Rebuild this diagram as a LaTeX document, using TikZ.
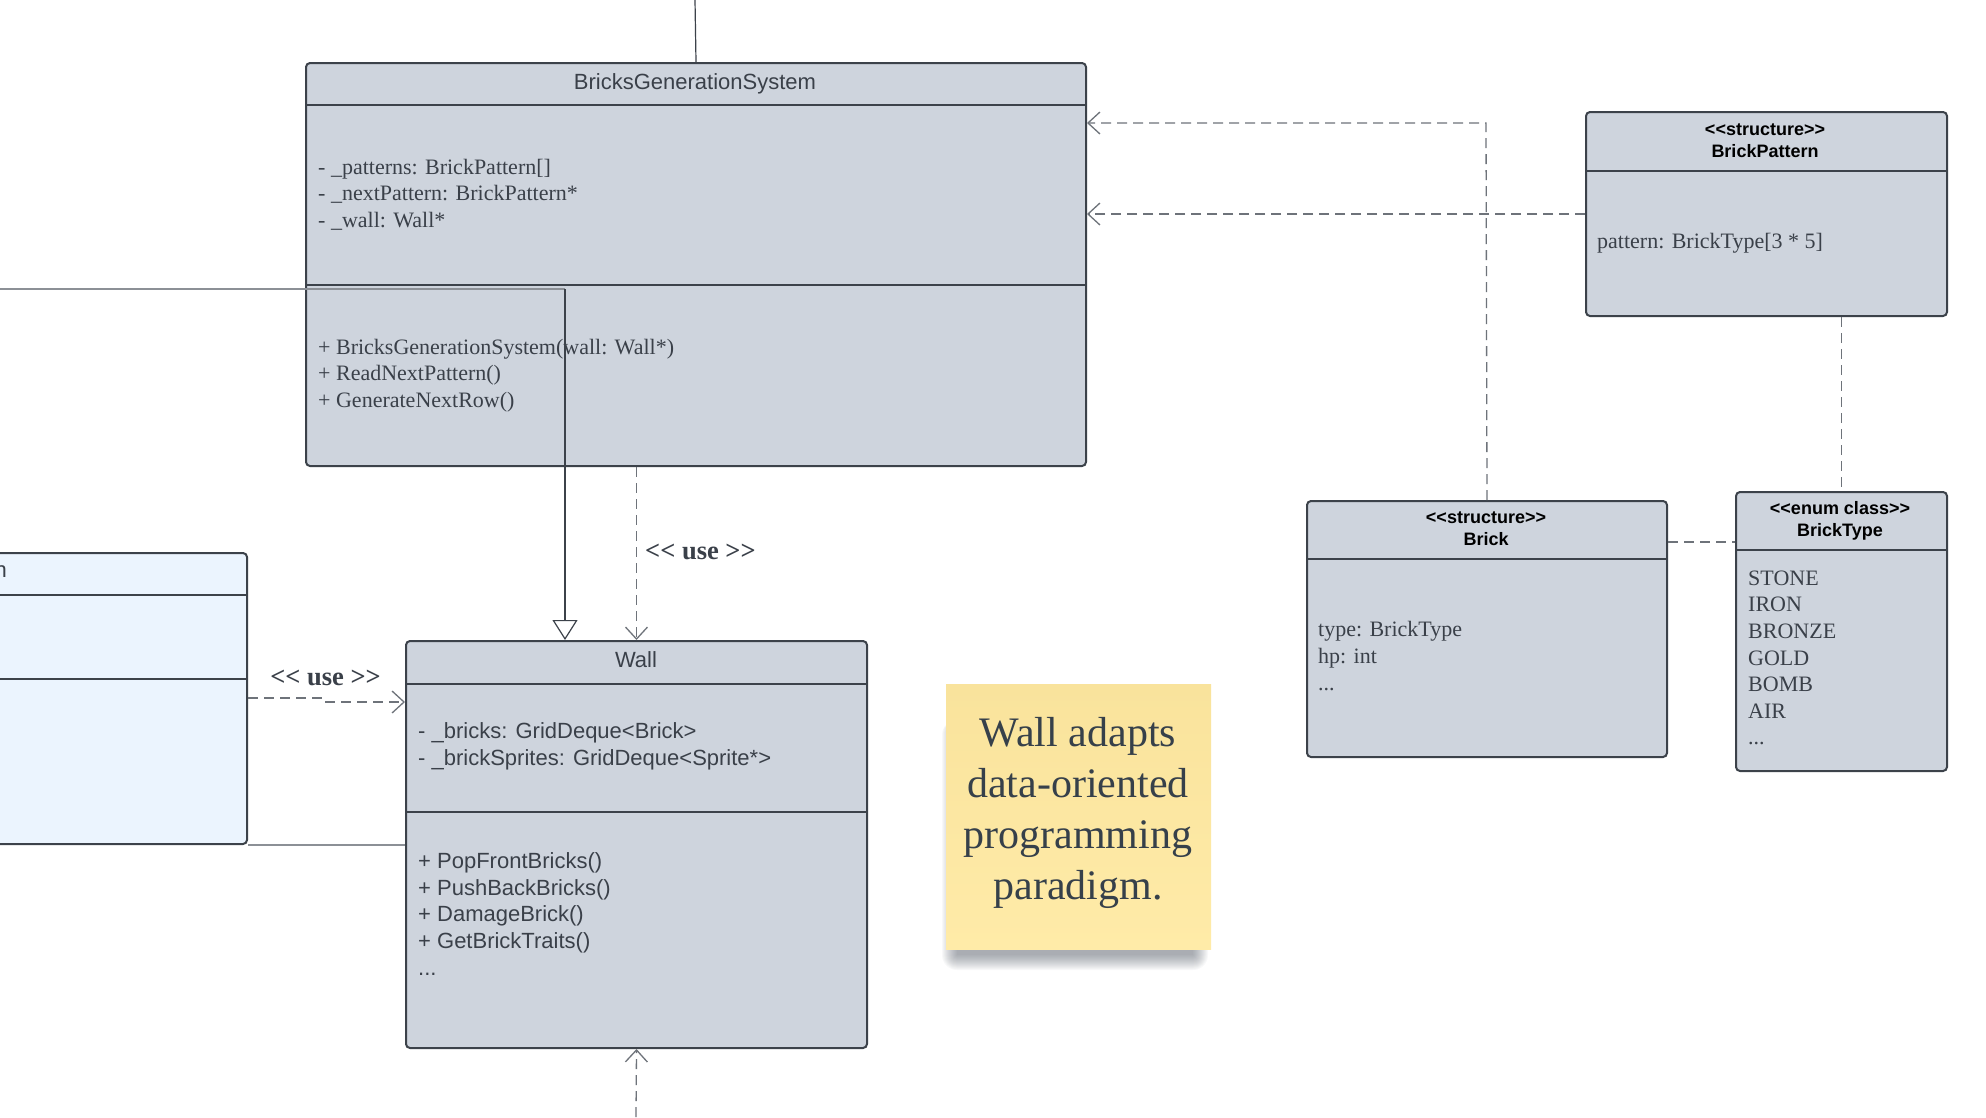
\documentclass[tikz,border=0pt]{standalone}
\usepackage{fontspec}
\setmainfont{Liberation Serif}[Ligatures=TeXOff]
\setsansfont{Liberation Sans}[Ligatures=TeXOff]
\usetikzlibrary{arrows.meta}
\definecolor{boxfill}{HTML}{CED4DD}
\definecolor{boxline}{HTML}{3C424A}
\definecolor{txt}{HTML}{3A4049}
\definecolor{bluefill}{HTML}{EBF4FE}
\definecolor{dashcol}{HTML}{6E737A}
\definecolor{graycon}{HTML}{8C9096}
\definecolor{notetop}{HTML}{F9E39C}
\definecolor{notebot}{HTML}{FFEBA8}
\definecolor{notetxt}{HTML}{36404A}
\definecolor{shadowcol}{HTML}{4A5260}
\begin{document}
\begin{tikzpicture}[x=1pt,y=-1pt,
  umlbox/.style={draw=boxline, line width=2pt, fill=boxfill, rounded corners=4pt, anchor=north west, inner sep=0pt},
  bluebox/.style={umlbox, fill=bluefill},
  divline/.style={draw=boxline, line width=2pt},
  titletxt/.style={font=\sffamily\fontsize{22}{26.6}\selectfont, text=txt, inner sep=0pt},
  stereotxt/.style={font=\sffamily\bfseries\fontsize{18}{22}\selectfont, text=black, inner sep=0pt, align=center},
  seriftxt/.style={font=\fontsize{22}{26.6}\selectfont, text=txt, inner sep=0pt, align=left, anchor=west},
  sanstxt/.style={font=\sffamily\fontsize{22}{26.6}\selectfont, text=txt, inner sep=0pt, align=left, anchor=west},
  uselabel/.style={font=\bfseries\fontsize{26.5}{30}\selectfont, text=txt, inner sep=0pt},
  dashcon/.style={draw=dashcol, line width=1.3pt, dash pattern=on 10pt off 6pt},
  usearrow/.style={dashcon, -{Straight Barb[length=12pt,width=22pt,line width=1.3pt]}},
  solidcon/.style={draw=boxline, line width=1.2pt},
  grayline/.style={draw=graycon, line width=2pt},
  notebox/.style={anchor=north west, inner sep=0pt, top color=notetop, bottom color=notebot},
  shadowlayer/.style={fill=shadowcol, opacity=0.035},
]
\useasboundingbox[fill=white] (0,0) rectangle (1986,1117);

% ---- left blue box (cut off)
\node[bluebox, minimum width=320pt, minimum height=291pt] (blue) at (-74,552) {};
\draw[divline] (blue.west |- 0,595) -- (blue.east |- 0,595);
\draw[divline] (blue.west |- 0,679) -- (blue.east |- 0,679);
\node[titletxt, anchor=east] (bluetitle) at (7,572) {n};

% ---- BricksGenerationSystem
\node[umlbox, minimum width=780pt, minimum height=403pt] (bgs) at (305,62) {};
\draw[divline] (bgs.west |- 0,105) -- (bgs.east |- 0,105);
\draw[divline] (bgs.west |- 0,285) -- (bgs.east |- 0,285);
\node[titletxt] (bgstitle) at (695,84) {BricksGenerationSystem};
\node[seriftxt] (bgsattr) at (318,194.5) {- \_patterns: BrickPattern[]\\- \_nextPattern: BrickPattern*\\- \_wall: Wall*};
\node[seriftxt] (bgsmeth) at (318,375.5) {+ BricksGenerationSystem(wall: Wall*)\\+ ReadNextPattern()\\+ GenerateNextRow()};

% ---- Wall
\node[umlbox, minimum width=461pt, minimum height=407pt] (wall) at (405,640) {};
\draw[divline] (wall.west |- 0,684) -- (wall.east |- 0,684);
\draw[divline] (wall.west |- 0,812) -- (wall.east |- 0,812);
\node[titletxt] (walltitle) at (636,660) {Wall};
\node[sanstxt] (wallattr) at (418,746.5) {- \_bricks: GridDeque<Brick>\\- \_brickSprites: GridDeque<Sprite*>};
\node[sanstxt] (wallmeth) at (418,914) {+ PopFrontBricks()\\+ PushBackBricks()\\+ DamageBrick()\\+ GetBrickTraits()\\...};

% ---- BrickPattern
\node[umlbox, minimum width=361pt, minimum height=204pt] (bp) at (1585,111) {};
\draw[divline] (bp.west |- 0,171) -- (bp.east |- 0,171);
\node[stereotxt] (bptitle) at (1765,141) {<<structure>>\\BrickPattern};
\node[seriftxt] (bpattr) at (1597,243.5) {pattern: BrickType[3 * 5]};

% ---- Brick
\node[umlbox, minimum width=360pt, minimum height=256pt] (brick) at (1306,500) {};
\draw[divline] (brick.west |- 0,559) -- (brick.east |- 0,559);
\node[stereotxt] (bricktitle) at (1486,529) {<<structure>>\\Brick};
\node[seriftxt] (brickattr) at (1318,656) {type: BrickType\\hp: int\\...};

% ---- BrickType
\node[umlbox, minimum width=211pt, minimum height=279pt] (bt) at (1735,491) {};
\draw[divline] (bt.west |- 0,550) -- (bt.east |- 0,550);
\node[stereotxt] (bttitle) at (1840,520.5) {<<enum class>>\\BrickType};
\node[seriftxt] (btitems) at (1748,658) {STONE\\IRON\\BRONZE\\GOLD\\BOMB\\AIR\\...};

% ---- note with soft shadow
\foreach \k in {0,...,15}{
  \fill[shadowlayer, rounded corners=\k pt] (957-\k,720) rectangle (1193+\k,955+\k);
}
\node[notebox, minimum width=265pt, minimum height=265pt] (note) at (946,684) {};
\node[font=\fontsize{42}{51}\selectfont, text=notetxt, align=center, inner sep=0pt] (notetext) at (1078,812.5) {Wall adapts\\data-oriented\\programming\\paradigm.};

% ---- connectors
\coordinate (topend) at (695,0);
\draw[solidcon] (topend) -- (bgs.north);

\coordinate (inhL) at (0,289);
\coordinate (inhC) at (565,289);
\draw[grayline] (inhL) -- (inhC);
\draw[solidcon, -{Triangle[open, length=20pt, width=25pt, line width=1.2pt]}] (inhC) -- (inhC |- wall.north);

\draw[usearrow] (bgs.south -| wall.north) -- (wall.north);
\node[uselabel, anchor=west] (use1) at (645,552) {<< use >>};

\coordinate (botend) at (636,1117);
\draw[usearrow] (botend) -- (wall.south);

\coordinate (bluejog) at (325,698);
\draw[dashcon] (blue.east |- bluejog) -- (bluejog);
\draw[usearrow] (bluejog |- 0,702) -- (wall.west |- 0,702);
\node[uselabel] (use2) at (325.5,677.5) {<< use >>};

\draw[grayline] (blue.south east) -- (wall.west |- blue.south east);

\draw[usearrow] (bp.west) -- (bgs.east |- bp.west);
\coordinate (brickturn) at (1486,123);
\draw[usearrow] (brick.north) -- (brickturn) -- (bgs.east |- brickturn);

\draw[dashcon] (bt.north |- bp.south) -- (bt.north);
\draw[dashcon] (brick.east |- 0,542) -- (bt.west |- 0,542);
\end{tikzpicture}
\end{document}
